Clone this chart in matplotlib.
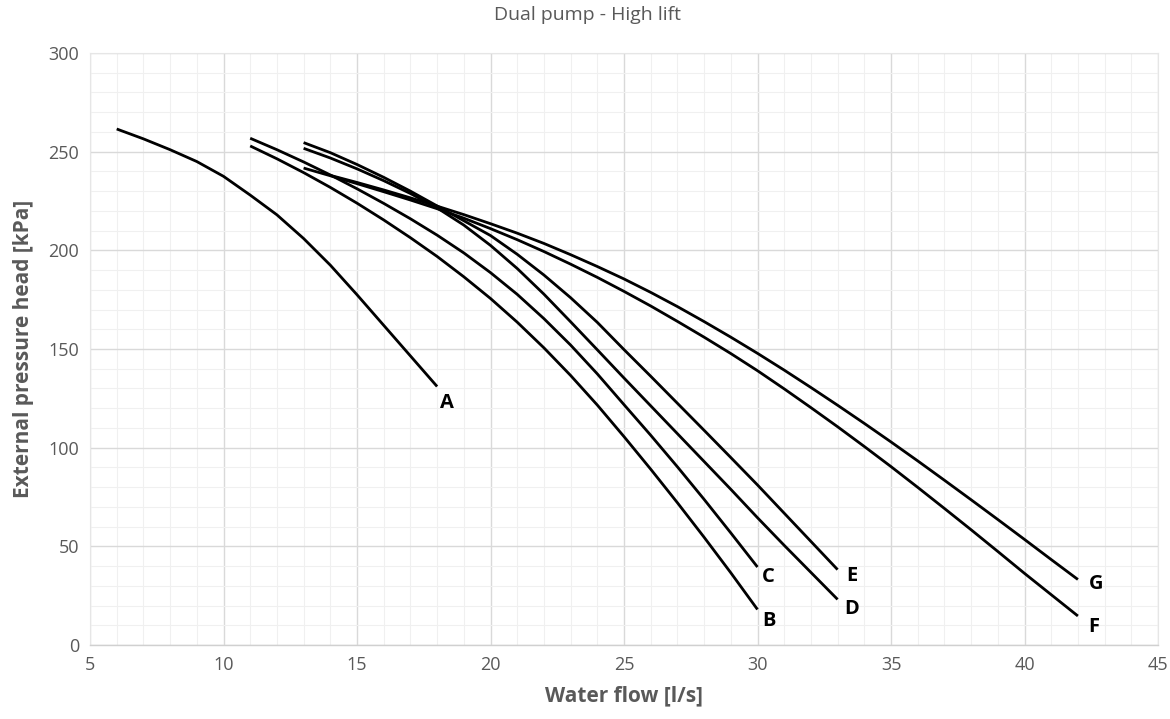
import matplotlib
matplotlib.use("Agg")
import matplotlib.pyplot as plt
from matplotlib.ticker import MultipleLocator

# ---- data ----
flow_A = [6, 7, 8, 9, 10, 11, 12, 13, 14, 15, 16, 17, 18]
head_A = [261.5, 256.5, 251, 245, 237.5, 228, 218, 206, 192.5, 177.5, 162, 146.5, 131]

flow_B = list(range(11, 31))
head_B = [252.9, 246.4, 239.4, 231.9, 223.9, 215.4, 206.4, 196.9, 186.6, 175.6,
          163.6, 150.6, 136.6, 121.6, 105.6, 89.1, 72.1, 54.6, 36.6, 18.0]

flow_C = list(range(11, 31))
head_C = [256.8, 251.0, 244.8, 238.2, 231.2, 223.8, 216.0, 207.7, 198.7, 188.7,
          177.7, 165.4, 152.0, 137.4, 121.8, 106.3, 90.3, 73.8, 56.8, 39.5]

flow_D = list(range(13, 34))
head_D = [251.7, 246.8, 241.3, 235.3, 228.8, 221.5, 212.8, 202.5, 190.8, 177.8,
          163.8, 149.6, 135.3, 121.2, 107.1, 93.0, 78.9, 64.5, 50.5, 36.8, 23.1]

flow_E = list(range(13, 34))
head_E = [254.6, 249.5, 243.5, 237.0, 230.0, 222.5, 215.0, 207.5, 198.0, 187.5,
          176.0, 163.5, 149.7, 136.2, 122.5, 108.8, 95.0, 81.1, 66.8, 52.5, 38.2]

flow_F = list(range(13, 43))
head_F = [241.7, 237.8, 233.8, 229.7, 225.5, 221.1, 216.3, 211.0, 205.4, 199.4,
          193.0, 186.3, 179.2, 171.8, 164.0, 156.0, 147.7, 139.0, 129.8, 120.3,
          110.6, 100.6, 90.4, 79.9, 69.2, 58.4, 47.4, 36.3, 25.5, 14.7]

flow_G = list(range(14, 43))
head_G = [238.0, 234.4, 230.6, 226.6, 222.4, 218.1, 213.5, 208.7, 203.5, 197.8,
          191.8, 185.5, 178.7, 171.5, 163.9, 156.0, 147.8, 139.3, 130.5, 121.5,
          112.3, 102.9, 93.3, 83.5, 73.6, 63.6, 53.5, 43.3, 33.2]

curve_names = ["A", "B", "C", "D", "E", "F", "G"]
curves = {
    "A": (flow_A, head_A),
    "B": (flow_B, head_B),
    "C": (flow_C, head_C),
    "D": (flow_D, head_D),
    "E": (flow_E, head_E),
    "F": (flow_F, head_F),
    "G": (flow_G, head_G),
}
# label offsets in pixels from the end of each curve
label_offsets = {
    "A": (10, -17), "B": (11, -12), "C": (11, -10), "D": (14, -10),
    "E": (14, -6), "F": (16, -11), "G": (18, -5),
}

title = "Dual pump - High lift"
x_label = "Water flow [l/s]"
y_label = "External pressure head [kPa]"

# ---- figure ----
plt.rcParams["font.family"] = ["Open Sans", "DejaVu Sans"]
fig = plt.figure(figsize=(11.7, 7.19), dpi=100)
ax = fig.add_axes([90 / 1170, 1 - 645 / 719, (1158 - 90) / 1170, (645 - 53) / 719])

text_gray = "#595959"

ax.set_xlim(5, 45)
ax.set_ylim(0, 300)
ax.xaxis.set_major_locator(MultipleLocator(5))
ax.xaxis.set_minor_locator(MultipleLocator(1))
ax.yaxis.set_major_locator(MultipleLocator(50))
ax.yaxis.set_minor_locator(MultipleLocator(10))
ax.grid(which="major", color="#d9d9d9", linewidth=1.0)
ax.grid(which="minor", color="#f0f0f0", linewidth=0.8)
ax.set_axisbelow(True)
for side in ["top", "right", "left"]:
    ax.spines[side].set_color("#e6e6e6")
    ax.spines[side].set_linewidth(0.8)
ax.spines["bottom"].set_color("#d0d0d0")
ax.spines["bottom"].set_linewidth(1.0)
ax.tick_params(which="both", length=0, labelsize=13, labelcolor=text_gray, pad=8)

for name in curve_names:
    xs, ys = curves[name]
    ax.plot(xs, ys, color="black", linewidth=2.0, solid_capstyle="butt",
            solid_joinstyle="round")
    dx, dy = label_offsets[name]
    ax.annotate(name, (xs[-1], ys[-1]), xytext=(dx, dy), textcoords="offset pixels",
                ha="center", va="center", fontsize=14.5, fontweight="bold", color="black")

ax.set_xlabel(x_label, fontsize=15, fontweight="bold", color=text_gray, labelpad=8)
ax.set_ylabel(y_label, fontsize=15, fontweight="bold", color=text_gray, labelpad=10)
fig.text(588 / 1170, 1 - 15 / 719, title, ha="center", va="center",
         fontsize=14, color=text_gray)

fig.savefig("out.png", dpi=100)
